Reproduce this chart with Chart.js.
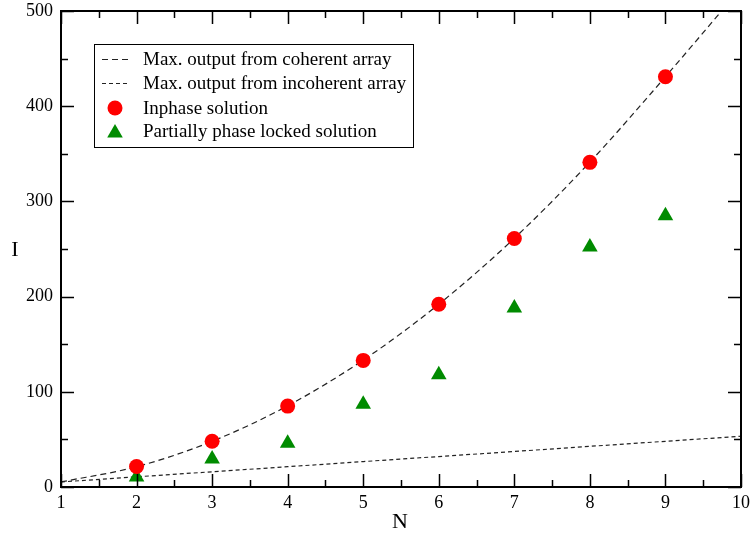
<!DOCTYPE html>
<html>
<head>
<meta charset="utf-8">
<script src="https://cdn.jsdelivr.net/npm/chart.js@4.4.1/dist/chart.umd.min.js"></script>
<style>
  html, body { margin: 0; padding: 0; background: #fff; }
  #wrap { width: 751px; height: 533px; }
</style>
</head>
<body>
<div id="wrap"><canvas id="c" width="751" height="533"></canvas></div>
<script>
// Array size N
const nValues = [1, 2, 3, 4, 5, 6, 7, 8, 9, 10];
// Upper bounds for output intensity
const coherentMax = [5.3, 21.3, 48, 85.3, 133.3, 192, 261.3, 341.3, 431, 524];
const incoherentMax = [5.3, 10.7, 16, 21.3, 26.7, 32, 37.3, 42.7, 48, 53.3];
// Simulated solutions, N = 2..9
const solutionN = [2, 3, 4, 5, 6, 7, 8, 9];
const inphaseI = [21.5, 48, 85, 133, 192, 261, 341, 431];
const partialI = [10.5, 29.5, 46, 87, 118, 188, 252, 285];
// Axis ticks
const xTicks = [1, 2, 3, 4, 5, 6, 7, 8, 9, 10];
const yTicks = [0, 100, 200, 300, 400, 500];

const SERIF = '"Liberation Serif", "Times New Roman", serif';
const pts = (xs, ys) => xs.map((x, i) => ({ x: x, y: ys[i] }));

const legendItems = [
  { label: 'Max. output from coherent array', kind: 'line', dash: [6, 4] },
  { label: 'Max. output from incoherent array', kind: 'line', dash: [4, 3] },
  { label: 'Inphase solution', kind: 'circle' },
  { label: 'Partially phase locked solution', kind: 'triangle' }
];

const framePlugin = {
  id: 'frame',
  afterDatasetsDraw(chart) {
    const { ctx, chartArea: a, scales } = chart;
    const xs = scales.x, ys = scales.y;
    ctx.save();
    ctx.strokeStyle = '#000';
    // inward tick marks on all four sides
    ctx.lineWidth = 1.5;
    ctx.beginPath();
    for (let v = 1; v <= 10.001; v += 0.5) {
      const px = Math.round(xs.getPixelForValue(v)) + 0.5;
      const len = Number.isInteger(v) ? 13 : 7;
      ctx.moveTo(px, a.bottom); ctx.lineTo(px, a.bottom - len);
      ctx.moveTo(px, a.top); ctx.lineTo(px, a.top + len);
    }
    for (let v = 0; v <= 500; v += 50) {
      const py = Math.round(ys.getPixelForValue(v)) + 0.5;
      const len = v % 100 === 0 ? 13 : 7;
      ctx.moveTo(a.left, py); ctx.lineTo(a.left + len, py);
      ctx.moveTo(a.right, py); ctx.lineTo(a.right - len, py);
    }
    ctx.stroke();
    // plot frame
    ctx.lineWidth = 2;
    ctx.strokeRect(a.left, a.top, a.right - a.left, a.bottom - a.top);
    ctx.restore();
  },
  afterDraw(chart) {
    const { ctx } = chart;
    ctx.save();
    // axis titles
    ctx.fillStyle = '#000';
    ctx.font = '22px ' + SERIF;
    ctx.textAlign = 'center';
    ctx.textBaseline = 'middle';
    ctx.fillText('N', 400, 522);
    ctx.fillText('I', 15, 250);

    // legend box
    const bx = 94.5, by = 44.5, bw = 319, bh = 103;
    ctx.fillStyle = '#fff';
    ctx.fillRect(bx, by, bw, bh);
    ctx.strokeStyle = '#000';
    ctx.lineWidth = 1;
    ctx.strokeRect(bx, by, bw, bh);
    const rows = [59, 83, 108, 131];
    ctx.font = '19px ' + SERIF;
    ctx.textAlign = 'left';
    legendItems.forEach((it, i) => {
      const y = rows[i];
      if (it.kind === 'line') {
        ctx.save();
        ctx.strokeStyle = '#222';
        ctx.lineWidth = 1.2;
        ctx.setLineDash(it.dash);
        ctx.beginPath();
        ctx.moveTo(102, y + 0.5); ctx.lineTo(129, y + 0.5);
        ctx.stroke();
        ctx.restore();
      } else if (it.kind === 'circle') {
        ctx.fillStyle = '#ff0000';
        ctx.beginPath();
        ctx.arc(115, y, 7.5, 0, Math.PI * 2);
        ctx.fill();
      } else {
        const r = 9;
        ctx.fillStyle = '#008b00';
        ctx.beginPath();
        ctx.moveTo(115, y - r + 2);
        ctx.lineTo(115 + r * Math.sqrt(3) / 2, y + r / 2 + 2);
        ctx.lineTo(115 - r * Math.sqrt(3) / 2, y + r / 2 + 2);
        ctx.closePath();
        ctx.fill();
      }
      ctx.fillStyle = '#000';
      ctx.fillText(it.label, 143, y + 1);
    });
    ctx.restore();
  }
};

new Chart(document.getElementById('c'), {
  type: 'scatter',
  data: {
    datasets: [
      {
        label: 'Inphase solution',
        data: pts(solutionN, inphaseI),
        pointStyle: 'circle',
        pointRadius: 7.5,
        pointBorderWidth: 0,
        backgroundColor: '#ff0000',
        borderColor: '#ff0000',
        showLine: false,
        order: 0
      },
      {
        label: 'Partially phase locked solution',
        data: pts(solutionN, partialI),
        pointStyle: 'triangle',
        pointRadius: 9,
        pointBorderWidth: 0,
        backgroundColor: '#008b00',
        borderColor: '#008b00',
        showLine: false,
        order: 0
      },
      {
        label: 'Max. output from coherent array',
        data: pts(nValues, coherentMax),
        showLine: true,
        borderColor: '#222',
        borderWidth: 1.2,
        borderDash: [6, 4],
        pointRadius: 0,
        cubicInterpolationMode: 'monotone',
        order: 1
      },
      {
        label: 'Max. output from incoherent array',
        data: pts(nValues, incoherentMax),
        showLine: true,
        borderColor: '#222',
        borderWidth: 1.2,
        borderDash: [4, 3],
        pointRadius: 0,
        order: 1
      }
    ]
  },
  options: {
    responsive: false,
    animation: false,
    devicePixelRatio: 1,
    layout: { padding: { top: 11, right: 10, left: 0, bottom: 0 } },
    plugins: { legend: { display: false }, tooltip: { enabled: false } },
    scales: {
      x: {
        type: 'linear',
        min: 1, max: 10,
        afterFit(s) { s.height = 46; s.paddingLeft = 0; s.paddingRight = 0; },
        afterBuildTicks(s) { s.ticks = xTicks.map(v => ({ value: v })); },
        grid: { display: false, drawTicks: false },
        border: { display: false },
        ticks: { color: '#000', font: { family: SERIF, size: 18 }, padding: 5, maxRotation: 0 }
      },
      y: {
        type: 'linear',
        min: 0, max: 500,
        afterFit(s) { s.width = 61; s.paddingTop = 0; s.paddingBottom = 0; },
        afterBuildTicks(s) { s.ticks = yTicks.map(v => ({ value: v })); },
        grid: { display: false, drawTicks: false },
        border: { display: false },
        ticks: { color: '#000', font: { family: SERIF, size: 18 }, padding: 8 }
      }
    }
  },
  plugins: [framePlugin]
});
</script>
</body>
</html>
